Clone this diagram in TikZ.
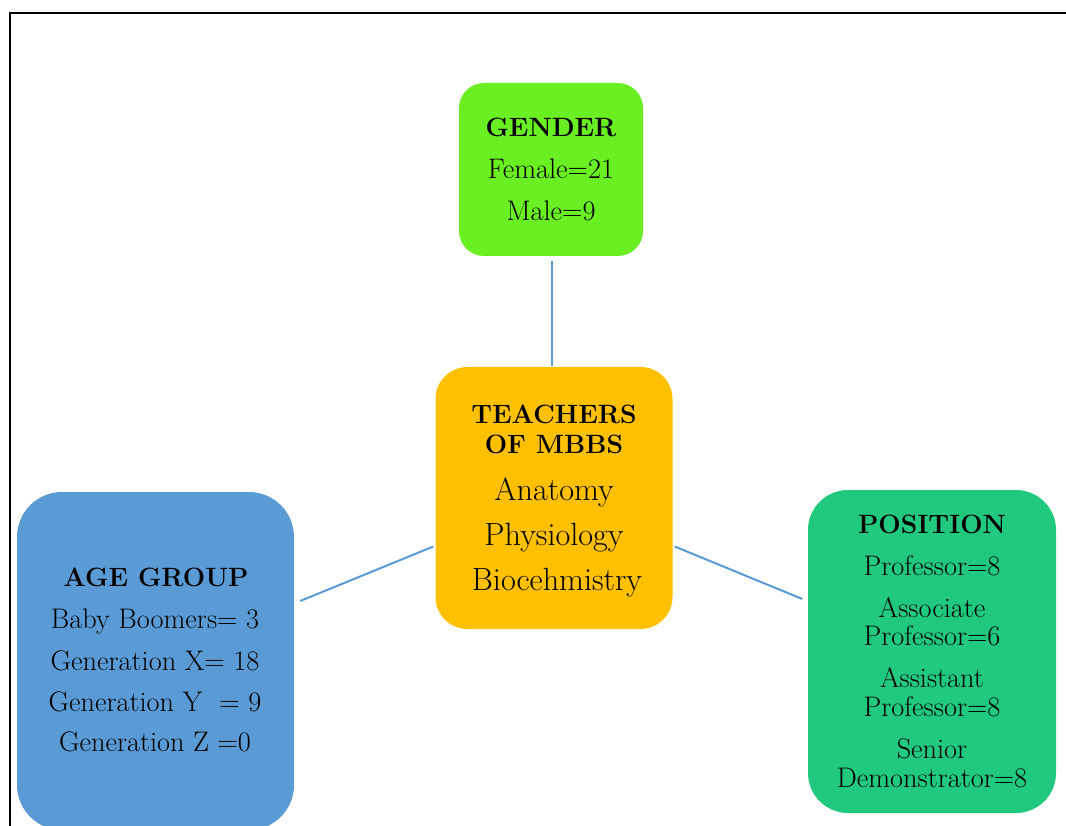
\documentclass[tikz,border=0pt]{standalone}
\usetikzlibrary{calc}
\definecolor{gendergreen}{RGB}{106,239,35}
\definecolor{centeryellow}{RGB}{255,192,0}
\definecolor{ageblue}{RGB}{91,155,213}
\definecolor{posgreen}{RGB}{33,201,127}
\definecolor{linkblue}{RGB}{91,155,213}
\tikzset{
  box/.style={rectangle, inner sep=0pt, draw=none},
  head/.style={anchor=base, inner sep=0pt, font=\fontsize{26.5}{30}\selectfont\bfseries},
  body/.style={anchor=base, inner sep=0pt, font=\fontsize{28.3}{30}\selectfont},
  cbody/.style={anchor=base, inner sep=0pt, font=\fontsize{32.2}{34}\selectfont},
  conn/.style={draw=linkblue, line width=2pt},
  frame/.style={draw=black, line width=2pt}
}
\begin{document}
\begin{tikzpicture}[x=1pt, y=-1pt]
\useasboundingbox (0,0) rectangle (1066,826);
% frame
\coordinate (fbl) at (9.5,830);
\coordinate (ftl) at (9.5,13.5);
\coordinate (ftr) at (1070,13.5);
\draw[frame] (fbl) -- (ftl) -- (ftr);
% boxes
\node[box, fill=gendergreen, minimum width=184pt, minimum height=173pt, rounded corners=25pt] (gender) at (551,169.5) {};
\node[box, fill=centeryellow, minimum width=237pt, minimum height=262pt, rounded corners=32pt] (center) at (554,498) {};
\node[box, fill=ageblue, minimum width=277pt, minimum height=338pt, rounded corners=45pt] (age) at (155.5,661) {};
\node[box, fill=posgreen, minimum width=248pt, minimum height=323pt, rounded corners=40pt] (position) at (932,651.5) {};
% connectors
\draw[conn] ([shift={(1,5)}]gender.south) -- ([shift={(1,-1)}]gender.south |- center.north);
\draw[conn] ([shift={(6,-60)}]age.east) -- ([shift={(-2,48.5)}]center.west);
\draw[conn] ([shift={(2,48.5)}]center.east) -- ([shift={(-5.5,-52.5)}]position.west);
% gender text
\node[head] (g1) at (551,137) {GENDER};
\node[body] (g2) at (551,179) {Female=21};
\node[body] (g3) at (551,221) {Male=9};
% center text
\node[head] (c1) at (554,423) {TEACHERS};
\node[head] (c2) at (554,453) {OF MBBS};
\node[cbody] (c3) at (554,500) {Anatomy};
\node[cbody] (c4) at (554,545) {Physiology};
\node[cbody] (c5) at (557,590) {Biocehmistry};
% age text
\node[head] (a1) at (156,586) {AGE GROUP};
\node[body] (a2) at (155,628) {Baby Boomers= 3};
\node[body] (a3) at (155,670) {Generation X= 18};
\node[body] (a4) at (155,711) {Generation Y \ = 9};
\node[body] (a5) at (155,751) {Generation Z =0};
% position text
\node[head] (p1) at (932,533) {POSITION};
\node[body] (p2) at (932,575) {Professor=8};
\node[body] (p3) at (932,617) {Associate};
\node[body] (p4) at (932,645.5) {Professor=6};
\node[body] (p5) at (932,687) {Assistant};
\node[body] (p6) at (932,716) {Professor=8};
\node[body] (p7) at (932,758.5) {Senior};
\node[body] (p8) at (932,787) {Demonstrator=8};
\end{tikzpicture}
\end{document}
